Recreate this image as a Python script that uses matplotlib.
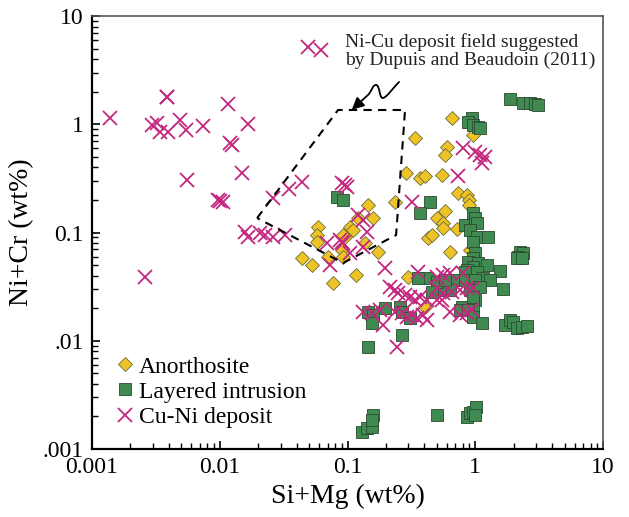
import numpy as np
import matplotlib
matplotlib.use("Agg")
import matplotlib.pyplot as plt
from matplotlib.path import Path
from matplotlib.patches import FancyArrowPatch
from matplotlib.ticker import LogLocator, NullFormatter

plt.rcParams['font.family'] = ['Liberation Serif', 'DejaVu Serif']

# Anorthosite (Si+Mg, Ni+Cr), wt%
anor_x = [0.658, 0.337, 0.601, 0.58, 0.96, 0.287, 0.37, 0.404, 0.55, 0.733,
          0.861, 0.894, 0.894, 0.235, 0.145, 0.158, 0.58, 0.502, 0.56, 0.56,
          0.427, 0.455, 0.72, 0.0588, 0.0577, 0.105, 0.11, 0.0955, 0.0577, 0.0923,
          0.121, 0.044, 0.0527, 0.0704, 0.0906, 0.0923, 0.137, 0.173, 0.117, 0.077,
          0.298, 0.404, 0.634, 0.91, 0.53]
anor_y = [1.14, 0.747, 0.617, 0.52, 0.796, 0.355, 0.319, 0.333, 0.34, 0.232,
          0.222, 0.2, 0.18, 0.191, 0.18, 0.136, 0.158, 0.136, 0.122, 0.11,
          0.089, 0.094, 0.108, 0.112, 0.0948, 0.112, 0.106, 0.0908, 0.0817, 0.0948,
          0.136, 0.0581, 0.0501, 0.0594, 0.0689, 0.0594, 0.08, 0.066, 0.0405, 0.0342,
          0.0388, 0.0205, 0.066, 0.0689, 0.0294]

# Layered intrusion
layer_x = [1.87, 2.37, 2.69, 2.94, 3.10, 0.944, 0.877, 0.96, 1.05, 1.09,
           0.0828, 0.0923, 0.443, 0.37, 0.832, 0.96, 0.995, 1.03, 0.91, 1.03,
           1.26, 0.96, 2.24, 2.37, 2.16, 2.12, 2.32, 0.995, 0.96, 0.877,
           1.05, 1.24, 0.96, 0.861, 1.03, 0.832, 1.56, 1.15, 1.30, 1.65,
           0.995, 0.802, 0.67, 0.634, 0.53, 0.419, 0.502, 0.58, 0.91, 1.09,
           0.995, 0.96, 0.787, 0.76, 0.877, 0.96, 1.13, 1.71, 1.87, 1.98,
           2.12, 2.32, 2.54, 0.356, 0.459, 0.145, 0.158, 0.155, 0.197, 0.258,
           0.267, 0.308, 0.267, 0.145, 0.96, 0.13, 0.142, 0.155, 0.158, 0.155,
           0.502, 0.861, 0.91, 0.96, 1.01, 0.995]
layer_y = [1.71, 1.57, 1.57, 1.54, 1.51, 1.14, 1.05, 0.984, 0.944, 0.923,
           0.213, 0.2, 0.191, 0.151, 0.117, 0.151, 0.136, 0.122, 0.106, 0.0908,
           0.0908, 0.0817, 0.066, 0.0647, 0.0594, 0.0581, 0.0581, 0.0647, 0.0581, 0.0534,
           0.0523, 0.0501, 0.048, 0.0451, 0.0432, 0.0432, 0.0441, 0.038, 0.0364, 0.0301,
           0.0364, 0.0364, 0.0364, 0.0294, 0.0294, 0.038, 0.0349, 0.0364, 0.0294, 0.0314,
           0.0238, 0.0205, 0.0205, 0.0192, 0.0192, 0.0166, 0.0146, 0.014, 0.0156, 0.0149,
           0.0131, 0.0134, 0.0137, 0.038, 0.0282, 0.0184, 0.0173, 0.0146, 0.0201, 0.0205,
           0.0184, 0.0162, 0.0113, 0.00875, 0.0254, 0.00144, 0.00156, 0.0016, 0.00206, 0.00186,
           0.00206, 0.00198, 0.00215, 0.0022, 0.00245, 0.00206]

# Cu-Ni deposit
cuni_x = [0.00138, 0.00386, 0.00386, 0.00295, 0.00323, 0.0034, 0.0039, 0.0049, 0.00544, 0.0074,
          0.0116, 0.0166, 0.012, 0.0125, 0.0149, 0.0055, 0.0097, 0.01, 0.0106, 0.0261,
          0.0158, 0.0166, 0.0207, 0.0226, 0.0261, 0.0026, 0.0491, 0.062, 0.0348, 0.044,
          0.0906, 0.0955, 0.099, 0.802, 0.995, 1.09, 1.19, 1.13, 0.733, 0.32,
          0.121, 0.142, 0.0873, 0.0324, 0.0692, 0.0906, 0.0923, 0.132, 0.132, 0.105,
          0.073, 0.197, 0.356, 0.502, 0.56, 0.634, 0.802, 0.215, 0.235, 0.248,
          0.282, 0.308, 0.337, 0.37, 0.419, 0.502, 0.56, 0.658, 0.76, 0.861,
          0.96, 0.502, 0.55, 0.132, 0.155, 0.18, 0.19, 0.235, 0.267, 0.292,
          0.32, 0.35, 0.39, 0.419, 0.244, 0.634, 0.76, 0.861, 0.944]
cuni_y = [1.14, 1.79, 1.79, 0.984, 1.03, 0.848, 0.848, 1.09, 0.885, 0.964,
          1.54, 1.0, 0.671, 0.643, 0.355, 0.305, 0.2, 0.196, 0.191, 0.208,
          0.101, 0.0908, 0.0989, 0.0948, 0.0908, 0.0388, 5.17, 4.85, 0.252, 0.292,
          0.286, 0.275, 0.263, 0.604, 0.555, 0.52, 0.498, 0.438, 0.333, 0.191,
          0.145, 0.101, 0.0853, 0.0948, 0.08, 0.0817, 0.08, 0.13, 0.0735, 0.0647,
          0.0501, 0.047, 0.0432, 0.0388, 0.0405, 0.0423, 0.0423, 0.0314, 0.0294, 0.0276,
          0.0265, 0.0254, 0.0238, 0.0254, 0.0238, 0.0307, 0.0276, 0.0282, 0.0294, 0.0307,
          0.0307, 0.0238, 0.0238, 0.0184, 0.018, 0.0192, 0.014, 0.0184, 0.018, 0.0166,
          0.0173, 0.0162, 0.0173, 0.0156, 0.00875, 0.0184, 0.0173, 0.018, 0.0192]

# Ni-Cu deposit field (Dupuis and Beaudoin, 2011)
field_x = [0.0196, 0.0843, 0.282, 0.240, 0.0923, 0.0196]
field_y = [0.136, 1.355, 1.355, 0.0948, 0.0523, 0.136]

fig = plt.figure(figsize=(6.29, 5.17), dpi=100)
ax = fig.add_axes([0.1463, 0.1315, 0.8124, 0.8375])
ax.set_xscale('log')
ax.set_yscale('log')
ax.set_xlim(0.001, 10)
ax.set_ylim(0.001, 10)

ax.plot(anor_x, anor_y, 'D', ms=7, mfc='#EEC326', mec='#6b6b3a', mew=0.6,
        ls='none', label='Anorthosite', zorder=3)
ax.plot(layer_x, layer_y, 's', ms=8.5, mfc='#3E8A50', mec='#2b4a30', mew=0.6,
        ls='none', label='Layered intrusion', zorder=4)
ax.plot(cuni_x, cuni_y, 'x', ms=10.5, mec='#C4277F', mew=1.3,
        ls='none', label='Cu-Ni deposit', zorder=5)

ax.plot(field_x, field_y, ls=(0, (4, 3)), color='black', lw=1.5, zorder=6)

ax.text(0.095, 6.9, 'Ni-Cu deposit field suggested\nby Dupuis and Beaudoin (2011)',
        fontsize=14, va='top', ha='left', linespacing=1.0, color='#222222')

# squiggly arrow pointing at the field
verts = [(0.253, 2.46),
         (0.227, 2.16), (0.204, 1.79), (0.19, 1.75),
         (0.1765, 1.71), (0.18, 2.31), (0.167, 2.31),
         (0.158, 2.31), (0.155, 2.07), (0.147, 1.90),
         (0.108, 1.36)]
codes = [Path.MOVETO] + [Path.CURVE4] * 9 + [Path.LINETO]
arrow = FancyArrowPatch(path=Path(verts, codes), arrowstyle='-|>', mutation_scale=18,
                        color='black', lw=1.3, shrinkA=0, shrinkB=0,
                        transform=ax.transData, zorder=7)
ax.add_patch(arrow)

ax.set_xticks([0.001, 0.01, 0.1, 1, 10])
ax.set_xticklabels(['0.001', '0.01', '0.1', '1', '10'])
ax.set_yticks([0.001, 0.01, 0.1, 1, 10])
ax.set_yticklabels(['.001', '.01', '0.1', '1', '10'])
ax.xaxis.set_minor_locator(LogLocator(base=10, subs=np.arange(2, 10), numticks=20))
ax.yaxis.set_minor_locator(LogLocator(base=10, subs=np.arange(2, 10), numticks=20))
ax.xaxis.set_minor_formatter(NullFormatter())
ax.yaxis.set_minor_formatter(NullFormatter())
ax.tick_params(which='major', direction='in', length=6, width=1.2, labelsize=17,
               top=False, right=False, pad=6)
ax.tick_params(which='minor', direction='in', length=4, width=1.0,
               top=False, right=False)

for side in ['left', 'bottom']:
    ax.spines[side].set_linewidth(1.6)
    ax.spines[side].set_color('black')
for side in ['top', 'right']:
    ax.spines[side].set_linewidth(1.2)
    ax.spines[side].set_color('#555555')

ax.set_xlabel('Si+Mg (wt%)', fontsize=20, labelpad=4)
ax.set_ylabel('Ni+Cr (wt%)', fontsize=20, labelpad=6)

ax.legend(loc='lower left', bbox_to_anchor=(0.0, 0.0), frameon=False, fontsize=17,
          handletextpad=0.1, labelspacing=0.15, handlelength=1.0, borderaxespad=0.5)

fig.savefig('out.png', dpi=100)
